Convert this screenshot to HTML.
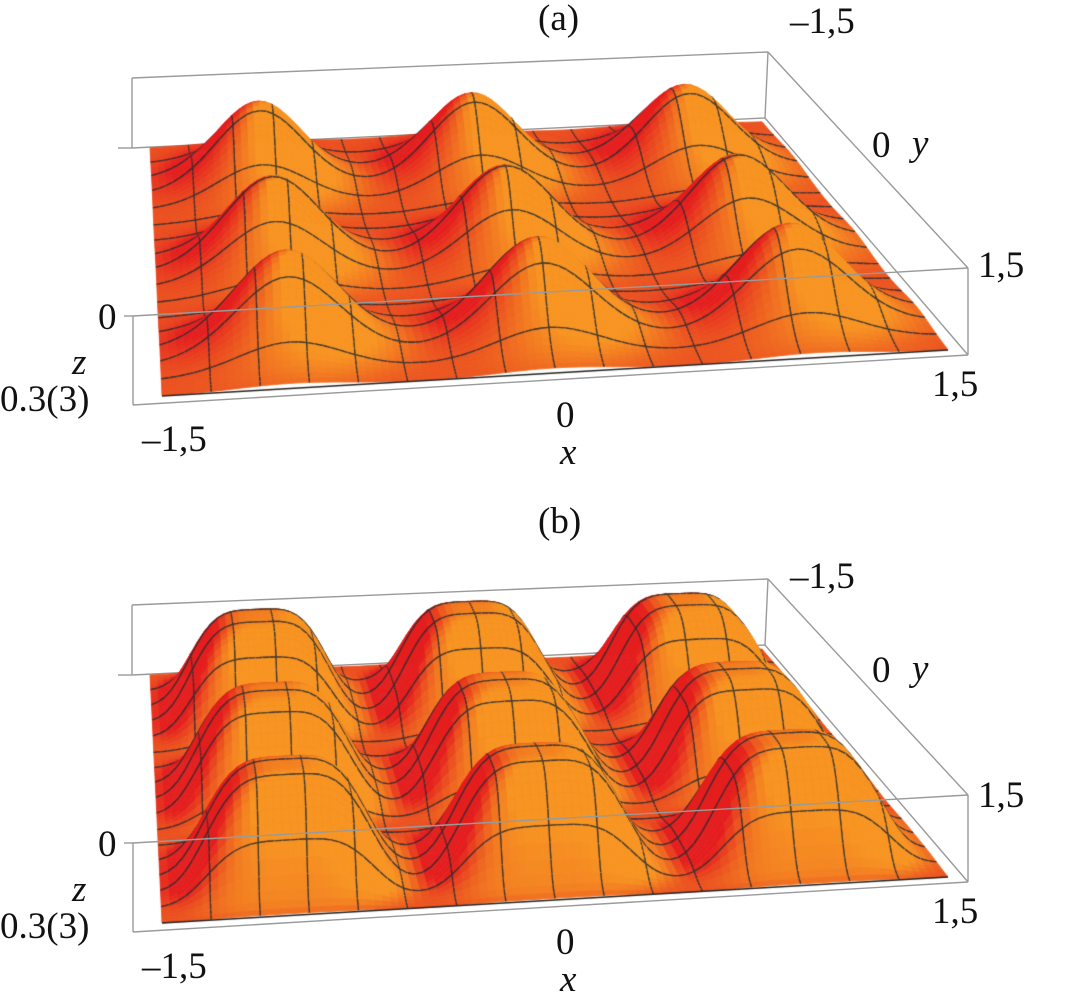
<!DOCTYPE html>
<html><head><meta charset="utf-8"><style>
body{margin:0;background:#fff;}
#wrap{position:relative;width:1069px;height:996px;overflow:hidden;background:#fff;}
svg,canvas{position:absolute;left:0;top:0;}
.t{position:absolute;font-family:"Times New Roman","Liberation Serif",Times,"DejaVu Serif",serif;font-size:37px;line-height:37px;color:#111;white-space:nowrap;}
.i{font-style:italic;}
</style></head><body>
<div id="wrap">
<svg id="under" width="1069" height="996"></svg>
<canvas id="cv" width="1069" height="996"></canvas>
<svg id="over" width="1069" height="996"></svg>

<div class="t" style="left:538px;top:0px">(a)</div>
<div class="t" style="left:790px;top:3px">–1,5</div>
<div class="t" style="left:872px;top:127px">0</div>
<div class="t i" style="left:912px;top:125px">y</div>
<div class="t" style="left:978px;top:247px">1,5</div>
<div class="t" style="left:98px;top:299px">0</div>
<div class="t i" style="left:72px;top:344px">z</div>
<div class="t" style="left:0px;top:381px">0.3(3)</div>
<div class="t" style="left:142px;top:421px">–1,5</div>
<div class="t" style="left:556px;top:397px">0</div>
<div class="t i" style="left:560px;top:434px">x</div>
<div class="t" style="left:932px;top:366px">1,5</div>

<div class="t" style="left:538px;top:503px">(b)</div>
<div class="t" style="left:790px;top:558px">–1,5</div>
<div class="t" style="left:872px;top:652px">0</div>
<div class="t i" style="left:912px;top:650px">y</div>
<div class="t" style="left:978px;top:777px">1,5</div>
<div class="t" style="left:98px;top:826px">0</div>
<div class="t i" style="left:72px;top:871px">z</div>
<div class="t" style="left:0px;top:908px">0.3(3)</div>
<div class="t" style="left:142px;top:948px">–1,5</div>
<div class="t" style="left:556px;top:924px">0</div>
<div class="t i" style="left:560px;top:961px">x</div>
<div class="t" style="left:932px;top:893px">1,5</div>
</div>
<script>
const peakX=[-1,0,1];
const peakY=[-1,0,1];
const ampA=[[1,1,1],[1,1,1],[1,1,1]];
const ampB=[[1,1,1],[1,1,1],[1,1,1]];
const meshLines=15;

const floorC={BL:[150,148],BR:[762,122],FR:[948,350],FL:[162,396]};
const boxH={BL:70,BR:66,FR:87,FL:89};
const topB={BL:[132,78],BR:[768,52],FR:[968,268],FL:[133,316]};
const botB={BL:[132,148],BR:[765,118],FR:[968,355],FL:[133,405]};

function gA(u){return Math.exp(-Math.pow(u/0.29,2));}
function gB(u){return Math.exp(-Math.pow(Math.abs(u)/0.35,4));}
function surf(p,x,y){
  const g=p==='a'?gA:gB, A=p==='a'?ampA:ampB;let s=0;
  for(let j=0;j<peakY.length;j++)for(let i=0;i<peakX.length;i++)s+=A[j][i]*g(x-peakX[i])*g(y-peakY[j]);
  return s;
}
function bil(c,u,v){
  if(typeof c.BL==='number')return (1-v)*((1-u)*c.BL+u*c.BR)+v*((1-u)*c.FL+u*c.FR);
  return [0,1].map(k=>(1-v)*((1-u)*c.BL[k]+u*c.BR[k])+v*((1-u)*c.FL[k]+u*c.FR[k]));
}
function proj(x,y,z,off,S){
  const u=(x+1.5)/3,v=(y+1.5)/3;const f=bil(floorC,u,v);const h=bil(boxH,u,v);
  return [f[0],f[1]-h*S*z+off];
}
const cv=document.getElementById('cv'),ctx=cv.getContext('2d');
function lerpC(a,b,t){return a.map((c,k)=>Math.round(c+(b[k]-c)*t));}
function color(t){
  const red=[228,30,30],mid=[236,88,32],org=[247,148,34];
  if(t<0.15)t=0.15;if(t>0.9)t=0.9;
  return t<0.52?lerpC(red,mid,(t-0.15)/0.37):lerpC(mid,org,(t-0.52)/0.38);
}
function draw(p,off,S){
  const N=96,step=3/N,L=[0.55,0.6,0.5],ln=Math.hypot(...L);
  const Z=[];for(let j=0;j<=N;j++){Z.push([]);for(let i=0;i<=N;i++)Z[j].push(surf(p,-1.5+i*step,-1.5+j*step));}
  const P=(i,j)=>proj(-1.5+i*step,-1.5+j*step,Z[j][i],off,S);
  const every=N/(meshLines+1);
  for(let j=0;j<N;j++){
    for(let i=N-1;i>=0;i--){
      const a=P(i,j),b=P(i+1,j),c=P(i+1,j+1),d=P(i,j+1);
      const zx=((Z[j][i+1]+Z[j+1][i+1])-(Z[j][i]+Z[j+1][i]))/(2*step);
      const zy=((Z[j+1][i]+Z[j+1][i+1])-(Z[j][i]+Z[j][i+1]))/(2*step);
      const k=0.38*S;let n=[-k*zx,-k*zy,1];const nn=Math.hypot(...n);
      let t=(n[0]*L[0]+n[1]*L[1]+n[2]*L[2])/(nn*ln);
      const zm=(Z[j][i]+Z[j+1][i+1])/2;t+=0.3*zm-0.04;
      const col='rgb('+color(t).join(',')+')';
      ctx.beginPath();ctx.moveTo(a[0],a[1]);ctx.lineTo(b[0],b[1]);ctx.lineTo(c[0],c[1]);ctx.lineTo(d[0],d[1]);ctx.closePath();
      ctx.fillStyle=col;ctx.strokeStyle=col;ctx.lineWidth=0.8;ctx.fill();ctx.stroke();
      ctx.strokeStyle='rgba(40,45,50,0.85)';ctx.lineWidth=1.3;
      if(i%every===0&&i>0){ctx.beginPath();ctx.moveTo(a[0],a[1]);ctx.lineTo(d[0],d[1]);ctx.stroke();}
      if((i+1)%every===0&&i+1<N){ctx.beginPath();ctx.moveTo(b[0],b[1]);ctx.lineTo(c[0],c[1]);ctx.stroke();}
      if(j%every===0&&j>0){ctx.beginPath();ctx.moveTo(a[0],a[1]);ctx.lineTo(b[0],b[1]);ctx.stroke();}
      if((j+1)%every===0&&j+1<N){ctx.beginPath();ctx.moveTo(d[0],d[1]);ctx.lineTo(c[0],c[1]);ctx.stroke();}
    }
  }
  ctx.strokeStyle='#222';ctx.lineWidth=1.5;
  const fl=[floorC.BL,floorC.BR,floorC.FR,floorC.FL];
  ctx.beginPath();ctx.moveTo(fl[3][0],fl[3][1]+off);ctx.lineTo(fl[2][0],fl[2][1]+off);ctx.stroke();
}
draw('a',0,1.13);
draw('b',527,1.3);

const NS='http://www.w3.org/2000/svg';
function line(svg,p,q,off,name){
  const l=document.createElementNS(NS,'line');
  l.setAttribute('x1',p[0]);l.setAttribute('y1',p[1]+off);l.setAttribute('x2',q[0]);l.setAttribute('y2',q[1]+off);
  l.setAttribute('stroke','#9a9a9a');l.setAttribute('stroke-width','1.4');
  
  
  svg.appendChild(l);
}
const U=document.getElementById('under'),O=document.getElementById('over');
[0,527].forEach(off=>{
  line(U,topB.BL,topB.BR,off,'box-top-back-edge');
  line(U,topB.BL,botB.BL,off,'box-back-left-edge');
  line(U,topB.BR,botB.BR,off,'box-back-right-edge');
  line(U,botB.BL,botB.BR,off,'box-bottom-back-edge');
  line(U,topB.FL,botB.FL,off,'box-front-left-edge');
  line(U,[118,148],[132,148],off,'z-tick');
  line(O,topB.FL,topB.FR,off,'box-top-front-edge');
  line(O,topB.BR,topB.FR,off,'box-top-right-edge');
  line(O,topB.FR,botB.FR,off,'box-front-right-edge');
  line(O,botB.FL,botB.FR,off,'box-bottom-front-edge');
  line(O,botB.BR,botB.FR,off,'box-bottom-right-edge');
  line(O,[124,316],[134,316],off,'z-tick-0');
});
</script>
</body></html>
